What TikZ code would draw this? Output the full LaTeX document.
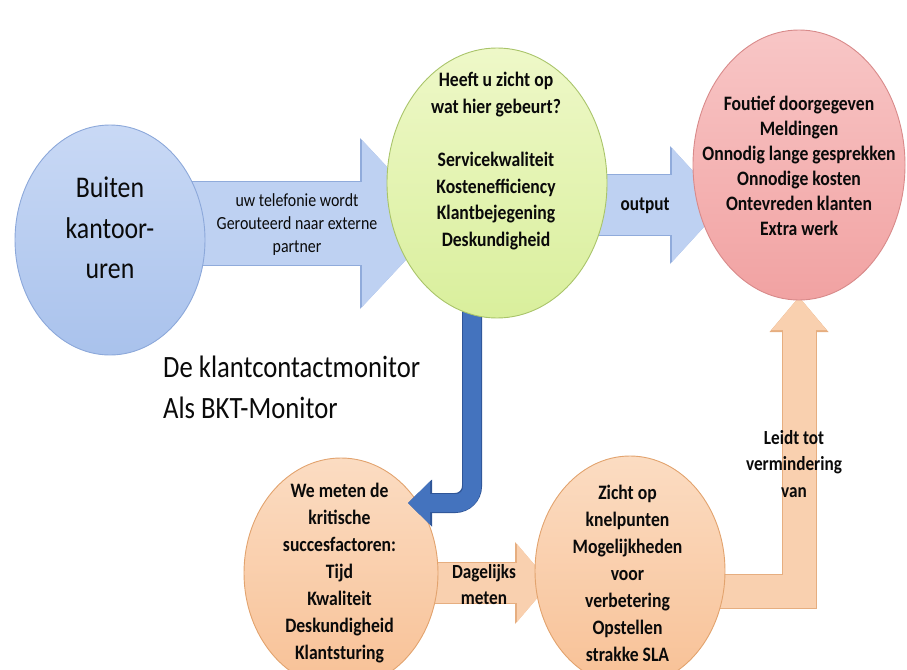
\documentclass[tikz,border=0pt]{standalone}
\usepackage{fontspec}
\setmainfont{Carlito}[FakeStretch=0.86]
\usetikzlibrary{shapes.geometric,arrows.meta}
\pgfdeclarelayer{bg}\pgfdeclarelayer{fg}\pgfsetlayers{bg,main,fg}
\definecolor{blueT}{HTML}{C9D9F5}\definecolor{blueB}{HTML}{A9C2EC}\definecolor{blueD}{HTML}{8CA8DA}
\definecolor{greenT}{HTML}{EEF8C8}\definecolor{greenB}{HTML}{D9EF9C}\definecolor{greenD}{HTML}{A9C46A}
\definecolor{redT}{HTML}{F8C6C6}\definecolor{redB}{HTML}{F1A2A2}\definecolor{redD}{HTML}{D88A8A}
\definecolor{orT}{HTML}{FBDCC2}\definecolor{orB}{HTML}{F8C196}\definecolor{orD}{HTML}{E2A36E}
\definecolor{arrF}{HTML}{BED1F2}\definecolor{arrD}{HTML}{90ABDB}
\definecolor{dbF}{HTML}{4473BE}\definecolor{dbD}{HTML}{2F5597}
\definecolor{oaF}{HTML}{F9D0AF}\definecolor{oaD}{HTML}{E6AE80}
\definecolor{txt}{HTML}{0A0A0A}
\begin{document}
\begin{tikzpicture}[x=1pt,y=-1pt,
  ell/.style={ellipse, inner sep=0pt, line width=0.9pt},
  body/.style={align=center, text=txt, inner sep=0pt, font=\fontsize{20.5}{27}\selectfont\bfseries},
]
\useasboundingbox (0,0) rectangle (907,669);
% ellipses
\node[ell, draw=blueD, top color=blueT, bottom color=blueB, minimum width=190pt, minimum height=230pt] (bk) at (110,240) {};
\node[ell, draw=redD, top color=redT, bottom color=redB, minimum width=212pt, minimum height=270pt] (rd) at (799,165) {};
\node[ell, draw=orD, top color=orT, bottom color=orB, minimum width=194pt, minimum height=230pt] (ol) at (341,573) {};
\node[ell, draw=orD, top color=orT, bottom color=orB, minimum width=190pt, minimum height=230pt] (orr) at (630,571) {};
\begin{pgfonlayer}{fg}
\node[ell, draw=greenD, top color=greenT, bottom color=greenB, minimum width=220pt, minimum height=270pt] (gr) at (497,183) {};
\node[body, font=\fontsize{20.5}{26.7}\selectfont\bfseries] (tgr) at (496,161) {Heeft u zicht op\\wat hier gebeurt?\\[26.7pt]Servicekwaliteit\\Kostenefficiency\\Klantbejegening\\Deskundigheid};
\end{pgfonlayer}
% block arrows under the ellipses
\begin{pgfonlayer}{bg}
\draw[draw=arrD, line width=85pt, -{Triangle[width=171pt,length=80pt,line width=0pt]}] ([yshift=16.5pt]bk.center) -- ([xshift=-57pt,yshift=-40.5pt]gr.center);
\draw[draw=arrF, line width=83pt, -{Triangle[width=167pt,length=78pt,line width=0pt]}] ([yshift=16.5pt]bk.center) -- ([xshift=-57pt,yshift=-40.5pt]gr.center);
\draw[draw=arrD, line width=62pt, -{Triangle[width=118pt,length=54pt,line width=0pt]}] ([yshift=-22pt]gr.center) -- ([xshift=-75pt,yshift=-40pt]rd.center);
\draw[draw=arrF, line width=60pt, -{Triangle[width=114pt,length=52pt,line width=0pt]}] ([yshift=-22pt]gr.center) -- ([xshift=-75pt,yshift=-40pt]rd.center);
\draw[draw=oaD, line width=42pt, -{Triangle[width=82pt,length=35pt,line width=0pt]}] ([yshift=-10pt]ol.center) -- ([xshift=-80pt,yshift=-12pt]orr.center);
\draw[draw=oaF, line width=40pt, -{Triangle[width=78pt,length=33pt,line width=0pt]}] ([yshift=-10pt]ol.center) -- ([xshift=-80pt,yshift=-12pt]orr.center);
\draw[draw=oaD, line width=35pt, -{Triangle[width=59pt,length=35pt,line width=0pt]}] ([yshift=-20pt]orr.center) -| ([yshift=-132pt]rd.center);
\draw[draw=oaF, line width=33pt, -{Triangle[width=55pt,length=33pt,line width=0pt]}] ([yshift=-20pt]orr.center) -| ([yshift=-132pt]rd.center);
\end{pgfonlayer}
% dark blue bent arrow: above the orange ellipse, below the green one
\draw[draw=dbD, line width=20pt, rounded corners=17pt, -{Triangle[width=47pt,length=24pt,line width=0pt]}] ([xshift=-25pt]gr.center) |- ([xshift=67pt,yshift=70pt]ol.center);
\draw[draw=dbF, line width=18pt, rounded corners=16pt, -{Triangle[width=43pt,length=22pt,line width=0pt]}] ([xshift=-25pt]gr.center) |- ([xshift=67pt,yshift=70pt]ol.center);
% texts
\node[align=center, text=txt, inner sep=0pt, font=\fontsize{30}{40.5}\selectfont] (tbk) at (110,228) {Buiten\\kantoor-\\uren};
\node[align=center, text=txt, inner sep=0pt, font=\fontsize{18.5}{23}\selectfont] (tarr) at (297,225) {uw telefonie wordt\\Gerouteerd naar externe\\partner};
\node[body, font=\fontsize{20}{25}\selectfont\bfseries] (tout) at (645,206) {output};
\node[body, font=\fontsize{20.5}{25}\selectfont\bfseries] (trd) at (799,165.5) {Foutief doorgegeven\\Meldingen\\Onnodig lange gesprekken\\Onnodige kosten\\Ontevreden klanten\\Extra werk};
\node[anchor=base west, align=left, text=txt, inner sep=0pt, font=\fontsize{31}{41}\selectfont] (title) at (163,418) {De klantcontactmonitor\\Als BKT-Monitor};
\node[body] (tol) at (339.5,573.5) {We meten de\\kritische\\succesfactoren:\\Tijd\\Kwaliteit\\Deskundigheid\\Klantsturing};
\node[body] (tor) at (627.5,573.5) {Zicht op\\knelpunten\\Mogelijkheden\\voor\\verbetering\\Opstellen\\strakke SLA};
\node[body, font=\fontsize{20}{26}\selectfont\bfseries] (tdag) at (484,585) {Dagelijks\\meten};
\node[body, font=\fontsize{20}{26.5}\selectfont\bfseries] (tleidt) at (794,464) {Leidt tot\\vermindering\\van};
\end{tikzpicture}
\end{document}
